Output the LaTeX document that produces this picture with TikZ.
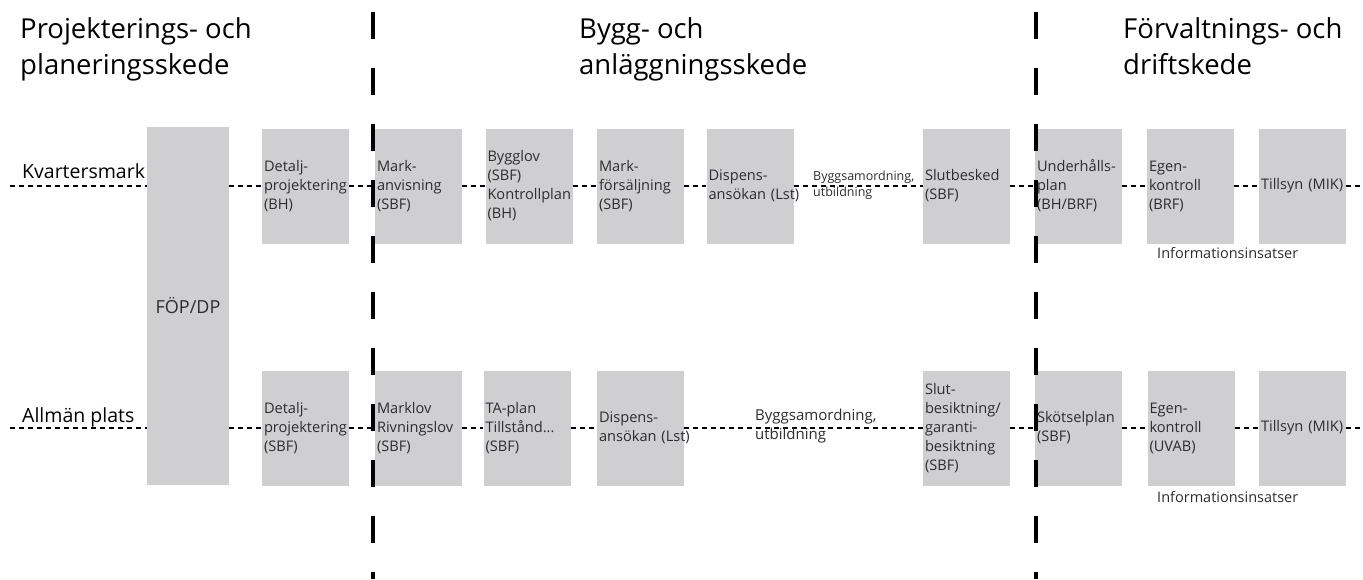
\documentclass[tikz,border=0pt]{standalone}
\usepackage{fontspec}
\setmainfont{Open Sans}
\usetikzlibrary{calc}
\definecolor{boxgray}{HTML}{CFCFD1}
\definecolor{txtgray}{HTML}{2E2C2D}
\hyphenpenalty=10000

\begin{document}
\begin{tikzpicture}[x=1pt,y=-1pt,
    BOX/.style={fill=boxgray,rectangle,minimum width=87pt,minimum height=115pt,text width=83pt,inner xsep=2pt,inner ysep=0pt,align=left,text=txtgray,font=\fontsize{14.6}{19}\selectfont},
    HEAD/.style={anchor=north west,inner sep=0pt,align=left,text=black,font=\fontsize{27.5}{36}\selectfont},
    ROW/.style={anchor=base west,inner sep=0pt,text=black,font=\fontsize{19.5}{24}\selectfont},
    NOTE/.style={inner sep=0pt,align=left,text=txtgray},
    DOT/.style={line width=2pt,dash pattern=on 5pt off 4pt},
    SEP/.style={line width=3.5pt,dash pattern=on 27pt off 29pt}]
    \useasboundingbox (0,0) rectangle (1363,579);
    % PHASES
    \node[HEAD] (proj) at (20,17) {Projekterings- och\\planeringsskede};
    \node[HEAD] (bygg) at (579,17) {Bygg- och\\anläggningsskede};
    \node[HEAD] (forv) at (1123,17) {Förvaltnings- och\\driftskede};
    % ROWS
    \node[ROW] (kvarter) at (22,178) {Kvartersmark};
    \node[ROW] (allman) at (22,422) {Allmän plats};
    \coordinate (kvstart) at (10,186);
    \coordinate (kvend) at (1362,186);
    \coordinate (alstart) at (10,428);
    \coordinate (alend) at (1362,428);
    % FOP/DP over both rows
    \node[BOX,minimum width=82pt,minimum height=358pt,text width=78pt,align=center,font=\fontsize{18}{22}\selectfont] (fop) at (188,306) {FÖP/DP};
    % Kvartersmark boxes
    \node[BOX] (detalj1) at (305.5,186) {Detalj-\\projektering\\(BH)};
    \node[BOX] (markanv) at (418.5,186) {Mark-\\anvisning\\(SBF)};
    \node[BOX] (bygglov) at (529,186) {Bygglov\\(SBF)\\Kontrollplan\\(BH)};
    \node[BOX] (markfors) at (640.5,186) {Mark-\\försäljning\\(SBF)};
    \node[BOX] (dispens1) at (750,186) {Dispens-\\ansökan~(Lst)};
    \node[BOX] (slutbesked) at (966.5,186) {Slutbesked\\(SBF)};
    \node[BOX] (underhall) at (1078.5,186) {Underhålls-\\plan\\(BH/BRF)};
    \node[BOX] (egen1) at (1190.5,186) {Egen-\\kontroll\\(BRF)};
    \node[BOX] (tillsyn1) at (1302.5,186) {Tillsyn~(MIK)};
    % Allman plats boxes
    \node[BOX] (detalj2) at (305.5,428) {Detalj-\\projektering\\(SBF)};
    \node[BOX] (marklov) at (418.5,428) {Marklov\\Rivningslov\\(SBF)};
    \node[BOX] (taplan) at (527,428) {TA-plan\\Tillstånd...\\(SBF)};
    \node[BOX] (dispens2) at (640.5,428) {Dispens-\\ansökan~(Lst)};
    \node[BOX] (slutbes) at (966.5,428) {Slut-\\besiktning/\\garanti-\\besiktning\\(SBF)};
    \node[BOX] (skotsel) at (1078.5,428) {Skötselplan\\(SBF)};
    \node[BOX] (egen2) at (1191,428) {Egen-\\kontroll\\(UVAB)};
    \node[BOX] (tillsyn2) at (1302.5,428) {Tillsyn~(MIK)};
    % DOTTED LINES
    \draw[DOT] (kvstart) -- (fop.west |- kvstart);
    \draw[DOT] (fop.east |- detalj1.west) -- (detalj1.west);
    \foreach \a/\b in {detalj1/markanv,markanv/bygglov,bygglov/markfors,markfors/dispens1,dispens1/slutbesked,slutbesked/underhall,underhall/egen1,egen1/tillsyn1}
        \draw[DOT] (\a.east) -- (\b.west);
    \draw[DOT] (tillsyn1.east) -- (kvend);
    \draw[DOT] (alstart) -- (fop.west |- alstart);
    \draw[DOT] (fop.east |- detalj2.west) -- (detalj2.west);
    \foreach \a/\b in {detalj2/marklov,marklov/taplan,taplan/dispens2,dispens2/slutbes,slutbes/skotsel,skotsel/egen2,egen2/tillsyn2}
        \draw[DOT] (\a.east) -- (\b.west);
    \draw[DOT] (tillsyn2.east) -- (alend);
    % notes on the lines
    \node[NOTE,anchor=north west,font=\fontsize{12.5}{16}\selectfont] (samord1) at (813,171) {Byggsamordning,\\utbildning};
    \node[NOTE,anchor=north west,font=\fontsize{15}{19}\selectfont] (samord2) at (755,409) {Byggsamordning,\\utbildning};
    \node[NOTE,anchor=base west,font=\fontsize{14.5}{19}\selectfont] (info1) at (1157,258) {Informationsinsatser};
    \node[NOTE,anchor=base west,font=\fontsize{14.5}{19}\selectfont] (info2) at (1157,502) {Informationsinsatser};
    % PHASE SEPARATORS
    \coordinate (sepAtop) at (373,12);
    \coordinate (sepAbot) at (373,579);
    \coordinate (sepBtop) at (1036,12);
    \coordinate (sepBbot) at (1036,579);
    \draw[SEP] (sepAtop) -- (sepAbot);
    \draw[SEP] (sepBtop) -- (sepBbot);
\end{tikzpicture}
\end{document}
